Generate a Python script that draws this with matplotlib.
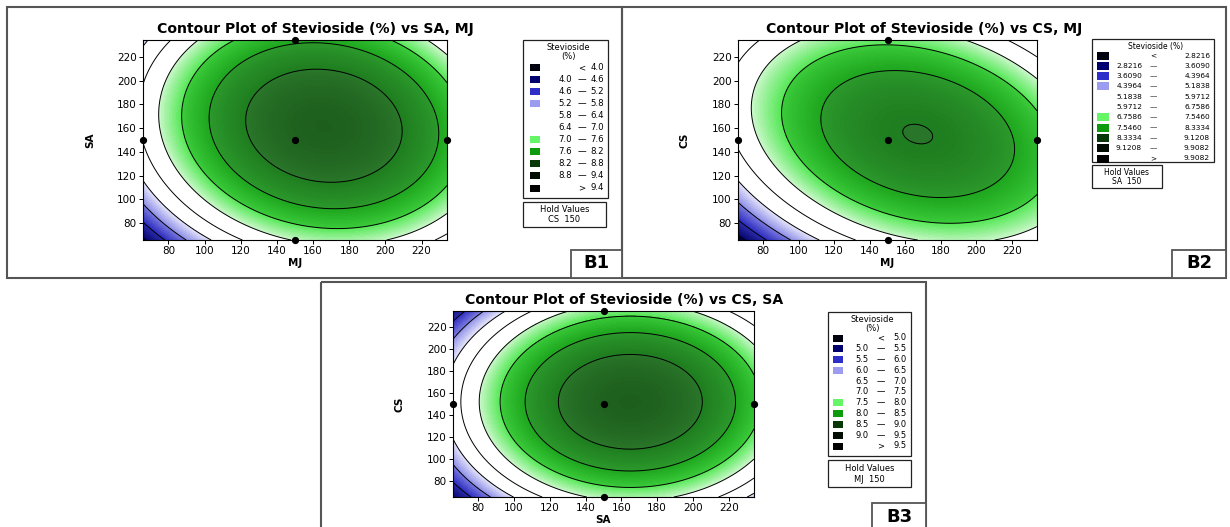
import numpy as np
import matplotlib
matplotlib.use("Agg")
import matplotlib.pyplot as plt
from matplotlib.patches import Rectangle
from matplotlib.colors import ListedColormap, BoundaryNorm, to_rgb

W, H = 1230, 527

# ---------------- data ----------------
axis_lo, axis_hi = 65.9, 234.1
tick_values = [80, 100, 120, 140, 160, 180, 200, 220]
design_x = [150, 65.9, 234.1, 150, 150]
design_y = [150, 150, 150, 65.9, 234.1]

b1_levels = [4.0, 4.6, 5.2, 5.8, 6.4, 7.0, 7.6, 8.2, 8.8, 9.4]
b2_levels = [2.8216, 3.6090, 4.3964, 5.1838, 5.9712, 6.7586, 7.5460, 8.3334, 9.1208, 9.9082]
b3_levels = [5.0, 5.5, 6.0, 6.5, 7.0, 7.5, 8.0, 8.5, 9.0, 9.5]

# fitted response surfaces:
# peak = [x at optimum, y at optimum, Stevioside at optimum]
# curvature (coded units, 50 per unit) = [xx, yy, xy]
b1_peak = [166.0, 162.0, 9.32]
b1_curv = [0.70, 0.58, 0.12]
b2_peak = [167.0, 155.0, 9.14]
b2_curv = [0.72, 0.75, 0.35]
b3_peak = [165.0, 152.0, 9.44]
b3_curv = [0.68, 0.60, 0.0]

titles = ["Contour Plot of Stevioside (%) vs SA, MJ",
          "Contour Plot of Stevioside (%) vs CS, MJ",
          "Contour Plot of Stevioside (%) vs CS, SA"]
x_names = ["MJ", "MJ", "SA"]
y_names = ["SA", "CS", "CS"]
hold_names = ["CS", "SA", "MJ"]
hold_values = [150, 150, 150]
panel_tags = ["B1", "B2", "B3"]
legend_titles = [["Stevioside", "(%)"], ["Stevioside (%)"], ["Stevioside", "(%)"]]
label_decimals = [1, 4, 1]

# ---------------- styles ----------------
# (colour at low end of class, colour at high end of class)
class_cols = [
    ("#00002a", "#000050"),
    ("#06066e", "#2c2cab"),
    ("#2b2bc0", "#7a7ade"),
    ("#8e8ee8", "#e6e6fb"),
    ("#ffffff", "#ffffff"),
    ("#ffffff", "#ffffff"),
    ("#cbf8cb", "#55e855"),
    ("#3acb3a", "#1fa61f"),
    ("#2c9a2c", "#1f7d1f"),
    ("#2a762a", "#1c5c1c"),
    ("#0e2a0e", "#061506"),
]
swatch_cols = ["#00000f", "#00006e", "#2e2ec8", "#9b9bf0", None, None,
               "#66f566", "#0d9a0d", "#083808", "#020c02", "#000000"]
frame_col = "#555555"

layout = [
    dict(frame=(7, 7, 622, 278), plot=(143, 40, 447, 240), title=(315, 29),
         legend=(523, 40, 608, 198), hold=(523, 202, 606, 227), tag=(571, 250, 622, 278),
         sw=(530, 10, 7), low_r=572, sym=582, high_r=604, tl_y=[47.5, 56.5], row_y0=67.5,
         row_dy=12.05, fs=6.2, tfs=6.0),
    dict(frame=(622, 7, 1226, 278), plot=(738, 40, 1037, 240), title=(924, 29),
         legend=(1092, 39, 1214, 162), hold=(1092, 165, 1162, 188), tag=(1172, 250, 1226, 278),
         sw=(1097, 12, 8), low_r=1142, sym=1153, high_r=1210, tl_y=[46], row_y0=55.5,
         row_dy=10.3, fs=5.3, tfs=5.5),
    dict(frame=(321, 282, 926, 540), plot=(453, 311, 754, 497), title=(624, 300),
         legend=(828, 312, 911, 456), hold=(828, 460, 911, 487), tag=(872, 503, 926, 540),
         sw=(833, 10, 7), low_r=869, sym=881, high_r=907, tl_y=[319, 328], row_y0=338,
         row_dy=10.8, fs=6.0, tfs=6.0),
]


def surface(peak, curv, X, Y):
    du = (X - peak[0]) / 50.0
    dv = (Y - peak[1]) / 50.0
    return peak[2] - (curv[0] * du ** 2 + curv[1] * dv ** 2 + curv[2] * du * dv)


def fine_scale(levels, nsub=14):
    step = levels[1] - levels[0]
    bounds = [levels[0] - step] + list(levels) + [levels[-1] + step]
    flev, fcol = [-1e3], [to_rgb(class_cols[0][0])]
    for k in range(len(bounds) - 1):
        lo, hi = bounds[k], bounds[k + 1]
        c0, c1 = np.array(to_rgb(class_cols[k][0])), np.array(to_rgb(class_cols[k][1]))
        for j in range(nsub):
            t = (j + 0.5) / nsub
            flev.append(lo + (hi - lo) * j / nsub)
            fcol.append(tuple(c0 + (c1 - c0) * t))
    flev.append(bounds[-1])
    fcol.append(to_rgb(class_cols[-1][1]))
    flev.append(1e3)
    return flev, fcol


def fmt(v, d):
    return f"{v:.{d}f}"


fig = plt.figure(figsize=(W / 100, H / 100), dpi=100)
ov = fig.add_axes([0, 0, 1, 1])
ov.set_xlim(0, W)
ov.set_ylim(H, 0)
ov.axis("off")

font = "DejaVu Sans"
levels_all = [b1_levels, b2_levels, b3_levels]
peaks = [b1_peak, b2_peak, b3_peak]
curvs = [b1_curv, b2_curv, b3_curv]

g = np.linspace(axis_lo, axis_hi, 500)
GX, GY = np.meshgrid(g, g)

for i in range(3):
    L = layout[i]
    levels = levels_all[i]
    fx0, fy0, fx1, fy1 = L["frame"]
    ov.add_patch(Rectangle((fx0, fy0), fx1 - fx0, fy1 - fy0, fill=False,
                           ec=frame_col, lw=1.5, zorder=1))
    ov.text(L["title"][0], L["title"][1], titles[i], ha="center", va="center",
            fontsize=10.1, fontweight="bold", family=font, zorder=3)

    x0, y0, x1, y1 = L["plot"]
    ax = fig.add_axes([x0 / W, 1 - y1 / H, (x1 - x0) / W, (y1 - y0) / H])
    Z = surface(peaks[i], curvs[i], GX, GY)
    flev, fcol = fine_scale(levels)
    cmap = ListedColormap(fcol)
    norm = BoundaryNorm(flev, cmap.N)
    ax.imshow(Z, origin="lower", extent=(axis_lo, axis_hi, axis_lo, axis_hi),
              cmap=cmap, norm=norm, aspect="auto", interpolation="nearest")
    ax.contour(GX, GY, Z, levels=levels, colors="black", linewidths=0.7)
    ax.plot(design_x, design_y, "o", color="black", ms=4.2, clip_on=False, zorder=5)
    ax.set_xlim(axis_lo, axis_hi)
    ax.set_ylim(axis_lo, axis_hi)
    ax.set_xticks(tick_values)
    ax.set_yticks(tick_values)
    ax.tick_params(direction="out", length=3, width=0.7, labelsize=7.5, pad=1.5)
    for lab in ax.get_xticklabels() + ax.get_yticklabels():
        lab.set_family(font)
    for s in ax.spines.values():
        s.set_linewidth(0.8)
        s.set_color("black")
    ax.set_xlabel(x_names[i], fontsize=7.5, fontweight="bold", family=font, labelpad=1.5)
    ax.set_ylabel(y_names[i], fontsize=7.5, fontweight="bold", family=font, labelpad=16)

    # legend
    lx0, ly0, lx1, ly1 = L["legend"]
    ov.add_patch(Rectangle((lx0, ly0), lx1 - lx0, ly1 - ly0, fill=True, fc="white",
                           ec="#222222", lw=0.9, zorder=2))
    cx = (lx0 + lx1) / 2
    for t, ty in zip(legend_titles[i], L["tl_y"]):
        ov.text(cx + 3, ty, t, ha="center", va="center",
                fontsize=L["tfs"], family=font, zorder=3)
    d = label_decimals[i]
    ncls = len(levels) + 1
    swx, sww, swh = L["sw"]
    for k in range(ncls):
        ry = L["row_y0"] + k * L["row_dy"]
        if swatch_cols[k] is not None:
            ov.add_patch(Rectangle((swx, ry - swh / 2), sww, swh, fc=swatch_cols[k],
                                   ec="none", zorder=3))
        if k == 0:
            sym, lo, hi = "<", "", fmt(levels[0], d)
        elif k == ncls - 1:
            sym, lo, hi = ">", "", fmt(levels[-1], d)
        else:
            sym, lo, hi = "\u2014", fmt(levels[k - 1], d), fmt(levels[k], d)
        if lo:
            ov.text(L["low_r"], ry, lo, ha="right", va="center", fontsize=L["fs"],
                    family=font, zorder=3)
        ov.text(L["sym"], ry, sym, ha="center", va="center", fontsize=L["fs"],
                family=font, zorder=3)
        ov.text(L["high_r"], ry, hi, ha="right", va="center", fontsize=L["fs"],
                family=font, zorder=3)

    # hold values box
    hx0, hy0, hx1, hy1 = L["hold"]
    ov.add_patch(Rectangle((hx0, hy0), hx1 - hx0, hy1 - hy0, fill=True, fc="white",
                           ec="#222222", lw=0.9, zorder=2))
    hc = (hx0 + hx1) / 2
    ov.text(hc, hy0 + (hy1 - hy0) * 0.32, "Hold Values", ha="center", va="center",
            fontsize=L["tfs"], family=font, zorder=3)
    ov.text(hc, hy0 + (hy1 - hy0) * 0.72, f"{hold_names[i]}  {hold_values[i]}",
            ha="center", va="center", fontsize=L["tfs"], family=font, zorder=3)

    # tag box
    tx0, ty0, tx1, ty1 = L["tag"]
    ov.add_patch(Rectangle((tx0, ty0), tx1 - tx0, ty1 - ty0, fill=True, fc="white",
                           ec=frame_col, lw=1.3, zorder=2))
    ov.text((tx0 + tx1) / 2, ty0 + 13.5, panel_tags[i], ha="center", va="center",
            fontsize=13, fontweight="bold", family=font, zorder=3)

fig.savefig("out.png", dpi=100)
